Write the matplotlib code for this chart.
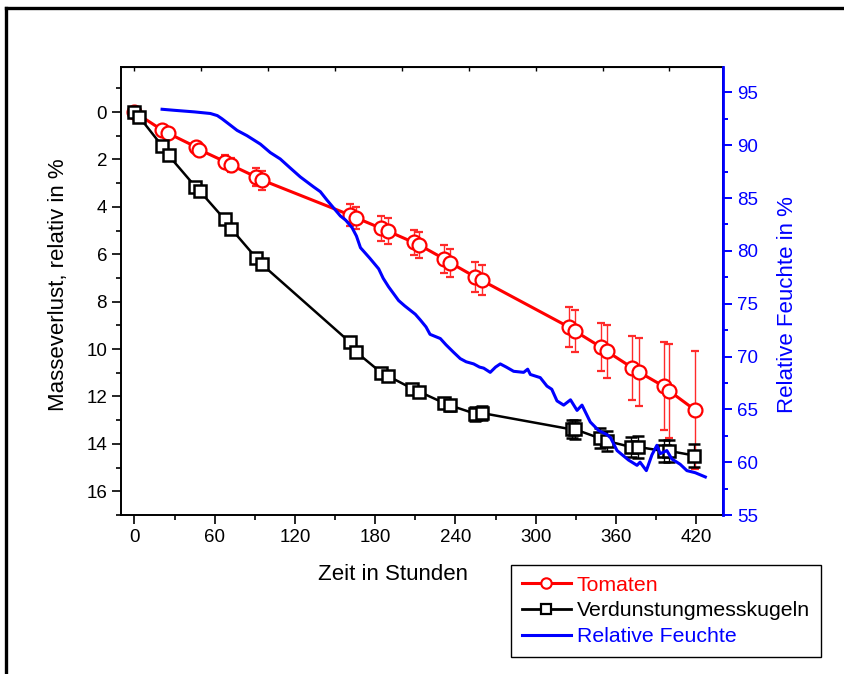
import matplotlib
matplotlib.use("Agg")
import matplotlib.pyplot as plt
from matplotlib.lines import Line2D
from matplotlib.ticker import MultipleLocator

plt.rcParams["font.family"] = ["Liberation Sans", "DejaVu Sans"]

# --- Data ------------------------------------------------------------------
t_tom = [0, 20.7, 25.4, 46.3, 48.6, 68, 72.3, 91, 95.4, 161.4, 165.7, 184.6,
         189.3, 208.7, 213, 231.7, 236.2, 254.9, 259.6, 325.1, 329.6, 348.8,
         353.3, 372.2, 376.9, 395.6, 399.9, 419.1]
m_tom = [0, 0.76, 0.9, 1.48, 1.59, 2.1, 2.24, 2.74, 2.87, 4.35, 4.46, 4.91,
         5.02, 5.50, 5.61, 6.20, 6.36, 6.96, 7.10, 9.08, 9.25, 9.92, 10.10,
         10.79, 10.96, 11.57, 11.77, 12.57]
e_tom = [0, 0.1, 0.12, 0.18, 0.2, 0.27, 0.29, 0.38, 0.4, 0.46, 0.47, 0.51,
         0.53, 0.54, 0.56, 0.57, 0.59, 0.62, 0.63, 0.85, 0.88, 1.02, 1.10,
         1.35, 1.43, 1.86, 1.98, 2.48]

t_kug = [0, 3.7, 20.7, 25.6, 45.6, 48.8, 67.5, 72.3, 91, 95.4, 160.9, 165.9,
         184.6, 189.3, 207.8, 213, 231.2, 236.2, 254.9, 259.9, 327.1, 329.6,
         348.3, 353.3, 371.2, 376.4, 395.6, 399.9, 418.5]
m_kug = [0, 0.21, 1.43, 1.83, 3.15, 3.33, 4.53, 4.92, 6.15, 6.43, 9.70, 10.13,
         11.0, 11.13, 11.67, 11.8, 12.27, 12.38, 12.73, 12.70, 13.39, 13.39,
         13.77, 13.88, 14.13, 14.13, 14.30, 14.30, 14.49]
e_kug = [0, 0.02, 0.05, 0.05, 0.08, 0.08, 0.1, 0.1, 0.12, 0.12, 0.15, 0.15,
         0.18, 0.18, 0.2, 0.2, 0.22, 0.22, 0.3, 0.3, 0.38, 0.4, 0.42, 0.44,
         0.44, 0.45, 0.47, 0.47, 0.5]

t_rf = [20.7, 30, 45, 56.8, 62, 65.5, 71.7, 76.8, 84.2, 94.2, 101.6, 109,
        116, 124, 134, 139, 144, 150, 154, 158, 162.7, 166, 169, 176, 182.6,
        186, 190, 197.5, 202, 206, 210, 213.8, 218, 221, 228.7, 233, 238.6,
        243.6, 248, 253.6, 258, 261.1, 266, 270, 273.5, 278, 283.5, 291, 294,
        296, 303.4, 308.4, 312, 315.9, 320.9, 326, 330.9, 334.6, 340.8, 347,
        353.3, 356, 360.8, 369.4, 375.7, 378, 382.7, 386.9, 390.6, 393, 398,
        401.8, 408, 413, 419.3, 426.8]
rf = [93.4, 93.3, 93.15, 93.0, 92.8, 92.5, 91.9, 91.4, 90.9, 90.1, 89.3, 88.7,
      87.9, 87.0, 86.05, 85.6, 84.8, 83.9, 83.3, 82.9, 82.2, 81.4, 80.3, 79.3,
      78.3, 77.4, 76.6, 75.3, 74.8, 74.4, 74.0, 73.45, 72.8, 72.1, 71.7, 71.1,
      70.4, 69.8, 69.5, 69.3, 69.0, 68.9, 68.5, 69.0, 69.3, 69.0, 68.6, 68.5,
      68.8, 68.3, 68.0, 67.2, 66.9, 65.8, 65.4, 65.9, 64.9, 65.4, 63.8, 63.0,
      62.6, 62.3, 61.1, 60.2, 59.7, 60.0, 59.2, 60.7, 61.6, 60.8, 61.1, 60.3,
      59.8, 59.2, 59.0, 58.6]

# --- Figure -----------------------------------------------------------------
W, H = 845, 674
FS_TICK, FS_LABEL, FS_LEG = 13.5, 16, 15.3

fig = plt.figure(figsize=(W / 100, H / 100), dpi=100)
ax = fig.add_axes([121 / W, 1 - 515 / H, (723 - 121) / W, (515 - 67) / H])

ax.errorbar(t_tom, m_tom, yerr=e_tom, fmt="-o", color="red", lw=2.2,
            ms=10, mfc="white", mec="red", mew=1.6, ecolor="#ff2a2a",
            elinewidth=1.0, capsize=3, capthick=1.0, zorder=3)
ax.errorbar(t_kug, m_kug, yerr=e_kug, fmt="-s", color="black", lw=1.8,
            ms=8.5, mfc="white", mec="black", mew=1.8, ecolor="black",
            elinewidth=1.0, capsize=4, capthick=1.0, zorder=4)

ax.set_xlim(-10, 440)
ax.set_ylim(17, -1.9)
ax.xaxis.set_major_locator(MultipleLocator(60))
ax.xaxis.set_minor_locator(MultipleLocator(30))
ax.yaxis.set_minor_locator(MultipleLocator(1))
ax.set_yticks(range(0, 17, 2))
ax.tick_params(axis="both", which="major", direction="out", length=6.5,
               width=1.2, labelsize=FS_TICK, pad=3.5)
ax.tick_params(axis="both", which="minor", direction="out", length=3.5,
               width=1.2)
# short inward ticks along the top edge
ax.secondary_xaxis("top").tick_params(which="both", direction="in",
                                      length=3, width=1.0, labeltop=False)
for s in ax.spines.values():
    s.set_linewidth(1.4)

ax.set_xlabel("Zeit in Stunden", fontsize=FS_LABEL)
ax.xaxis.set_label_coords(0.452, -0.109)
ax.set_ylabel("Masseverlust, relativ in %", fontsize=FS_LABEL)
ax.yaxis.set_label_coords(-0.087, 0.513)

ax2 = ax.twinx()
ax2.plot(t_rf, rf, color="blue", lw=2.2, zorder=5)
ax2.set_ylim(55, 97.4)
ax2.yaxis.set_minor_locator(MultipleLocator(2.5))
ax2.set_yticks(range(55, 96, 5))
ax2.tick_params(axis="y", which="major", direction="out", length=6.5,
                width=1.4, colors="blue", labelsize=FS_TICK, pad=3.5)
ax2.tick_params(axis="y", which="minor", direction="out", length=3.5,
                width=1.4, colors="blue")
ax2.spines["right"].set_color("blue")
ax2.spines["right"].set_linewidth(2.0)
for k in ("left", "top", "bottom"):
    ax2.spines[k].set_visible(False)
ax2.set_ylabel("Relative Feuchte in %", fontsize=FS_LABEL, color="blue")
ax2.yaxis.set_label_coords(1.0897, 0.469)

# --- Legend (outside axes, bottom right) ----------------------------------
handles = [
    Line2D([], [], color="red", lw=2.2, marker="o", ms=7.5, mfc="white",
           mec="red", mew=1.5),
    Line2D([], [], color="black", lw=2.0, marker="s", ms=7, mfc="white",
           mec="black", mew=1.6),
    Line2D([], [], color="blue", lw=2.2),
]
leg = fig.legend(handles, ["Tomaten", "Verdunstungmesskugeln", "Relative Feuchte"],
                 loc="upper left", bbox_to_anchor=(511 / W, 1 - 565 / H),
                 fontsize=FS_LEG, labelcolor=["red", "black", "blue"],
                 frameon=True, fancybox=False, edgecolor="black", framealpha=1,
                 handlelength=2.3, handletextpad=0.3, labelspacing=0.32,
                 borderpad=0.5, borderaxespad=0)
leg.get_frame().set_linewidth(1.0)

# --- Figure frame (top and left border of the page) -----------------------
fig.add_artist(Line2D([6.5 / W, 1], [1 - 8 / H, 1 - 8 / H], color="black",
                      lw=2.4, transform=fig.transFigure))
fig.add_artist(Line2D([6.5 / W, 6.5 / W], [0, 1 - 8 / H], color="black",
                      lw=2.4, transform=fig.transFigure))

fig.savefig("out.png", dpi=100)
